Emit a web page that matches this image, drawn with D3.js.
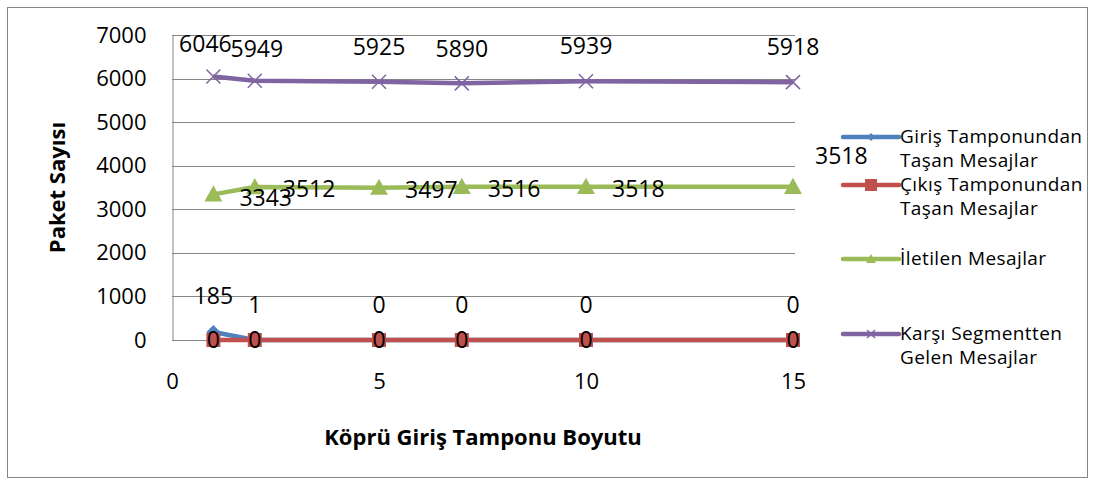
<!DOCTYPE html>
<html>
<head>
<meta charset="utf-8">
<script src="https://d3js.org/d3.v7.min.js"></script>
<style>
	html, body {margin: 0; background: #fff; overflow: hidden}
	text {font-family: "Open Sans", Lato, sans-serif; fill: #000}
	.grid line {stroke: #868686; stroke-width: 1}
</style>
</head>
<body>
<script>
	// data
	var xValues = [1, 2, 5, 7, 10, 15];
	var seriesNames = [
		["Giriş Tamponundan", "Taşan Mesajlar"],
		["Çıkış Tamponundan", "Taşan Mesajlar"],
		["İletilen Mesajlar"],
		["Karşı Segmentten", "Gelen Mesajlar"]
	];
	var girisValues = [185, 1, 0, 0, 0, 0];
	var cikisValues = [0, 0, 0, 0, 0, 0];
	var iletilenValues = [3343, 3512, 3497, 3516, 3518, 3518];
	var karsiValues = [6046, 5949, 5925, 5890, 5939, 5918];
	var yTicks = [0, 1000, 2000, 3000, 4000, 5000, 6000, 7000];
	var xTicks = [0, 5, 10, 15];

	var colors = ["#4F81BD", "#C0504D", "#9BBB59", "#8064A2"];
	var shapes = ["diamond", "square", "triangle", "cross"];

	var width = 1094, height = 485;
	var margin = {left: 172, top: 35, right: 301, bottom: 145};

	var svg = d3.select("body").append("svg")
		.attr("width", width)
		.attr("height", height);

	svg.append("rect")
		.attr("x", 7.5).attr("y", 7.5)
		.attr("width", 1080).attr("height", 470)
		.attr("fill", "#fff")
		.attr("stroke", "#868686");

	var x = d3.scaleLinear().domain([0, 15]).range([margin.left, width - margin.right]);
	var y = d3.scaleLinear().domain([0, 7000]).range([height - margin.bottom, margin.top]);

	// grid lines
	svg.append("g").attr("class", "grid")
		.selectAll("line")
		.data(yTicks.slice(1))
		.enter().append("line")
		.attr("x1", x(0)).attr("x2", x(15) + 2)
		.attr("y1", function(d){ return Math.round(y(d)) + 0.5; })
		.attr("y2", function(d){ return Math.round(y(d)) + 0.5; });

	// y axis
	var yAxis = d3.axisLeft(y).tickValues(yTicks).tickFormat(d3.format("d")).tickSize(0).tickPadding(26);
	var gy = svg.append("g")
		.attr("transform", "translate(" + (x(0) + 0.5) + ",0)")
		.call(yAxis);
	gy.select(".domain").attr("stroke", "#868686");
	gy.selectAll("text").style("font-size", "22px").attr("font-family", null);

	// x axis
	var xAxis = d3.axisBottom(x).tickValues(xTicks).tickFormat(d3.format("d")).tickSize(0).tickPadding(33);
	var gx = svg.append("g")
		.attr("transform", "translate(0," + (Math.round(y(0)) + 0.5) + ")")
		.call(xAxis);
	gx.select(".domain").attr("stroke", "#868686").attr("d", "M" + x(0) + ",0H" + (x(15) + 2));
	gx.selectAll("text").style("font-size", "22px").attr("font-family", null);

	// axis titles
	svg.append("text")
		.attr("transform", "translate(65," + y(3500) + ")rotate(-90)")
		.attr("text-anchor", "middle")
		.style("font-size", "22px")
		.style("font-weight", "bold")
		.text("Paket Sayısı");

	svg.append("text")
		.attr("x", 483).attr("y", 445)
		.attr("text-anchor", "middle")
		.style("font-size", "22px")
		.style("font-weight", "bold")
		.text("Köprü Giriş Tamponu Boyutu");

	var allSeries = [girisValues, cikisValues, iletilenValues, karsiValues];

	var line = d3.line()
		.x(function(d, i){ return x(xValues[i]); })
		.y(function(d){ return y(d); });

	function marker(g, shape, color, cx, cy, s) {
		if (shape === "diamond") {
			g.append("path")
				.attr("d", "M" + cx + "," + (cy - s) + "L" + (cx + s) + "," + cy + "L" + cx + "," + (cy + s) + "L" + (cx - s) + "," + cy + "Z")
				.attr("fill", color);
		} else if (shape === "square") {
			g.append("rect")
				.attr("x", cx - s).attr("y", cy - s)
				.attr("width", 2 * s).attr("height", 2 * s)
				.attr("fill", color);
		} else if (shape === "triangle") {
			g.append("path")
				.attr("d", "M" + cx + "," + (cy - s) + "L" + (cx + s) + "," + (cy + s * 0.8) + "L" + (cx - s) + "," + (cy + s * 0.8) + "Z")
				.attr("fill", color);
		} else {
			g.append("path")
				.attr("d", "M" + (cx - s) + "," + (cy - s) + "L" + (cx + s) + "," + (cy + s) + "M" + (cx + s) + "," + (cy - s) + "L" + (cx - s) + "," + (cy + s))
				.attr("stroke", color)
				.attr("stroke-width", 1.5)
				.attr("fill", "none");
		}
	}

	var markerSize = [7, 7, 9, 7];

	allSeries.forEach(function(values, k){
		var g = svg.append("g");
		g.append("path")
			.datum(values)
			.attr("d", line)
			.attr("fill", "none")
			.attr("stroke", colors[k])
			.attr("stroke-width", 4.5)
			.attr("stroke-linejoin", "round");
		values.forEach(function(v, i){
			marker(g, shapes[k], colors[k], x(xValues[i]), y(v), markerSize[k]);
		});
	});

	// data labels
	function labels(values, dx, dy, anchor) {
		svg.append("g")
			.selectAll("text")
			.data(values)
			.enter().append("text")
			.attr("x", function(d, i){ return x(xValues[i]) + dx[i]; })
			.attr("y", function(d, i){ return y(d) + dy[i]; })
			.attr("text-anchor", anchor)
			.style("font-size", "23px")
			.text(function(d){ return d; });
	}

	labels(girisValues, [0, 0, 0, 0, 0, 0], [-28, -27, -27, -27, -27, -27], "middle");
	labels(iletilenValues, [26, 28, 26, 26, 26, 22], [12, 10, 10, 10, 10, -23], "start");
	labels(karsiValues, [-8, 2, 0, 0, 0, 0], [-25, -24, -27, -26, -27, -27], "middle");
	labels(cikisValues, [0, 0, 0, 0, 0, 0], [8, 8, 8, 8, 8, 8], "middle");

	// legend
	var legendY = [137, 185, 259, 334];
	var legend = svg.append("g");
	seriesNames.forEach(function(name, k){
		var g = legend.append("g");
		g.append("line")
			.attr("x1", 843).attr("x2", 899)
			.attr("y1", legendY[k]).attr("y2", legendY[k])
			.attr("stroke", colors[k])
			.attr("stroke-width", 4.5)
			.attr("stroke-linecap", "round");
		marker(g, shapes[k], colors[k], 871, legendY[k], [4, 6, 5, 4][k]);
		name.forEach(function(t, j){
			g.append("text")
				.attr("x", 900)
				.attr("y", legendY[k] + 6 + j * 24)
				.style("font-size", "19px")
				.style("letter-spacing", "0.4px")
				.text(t);
		});
	});
</script>
</body>
</html>
